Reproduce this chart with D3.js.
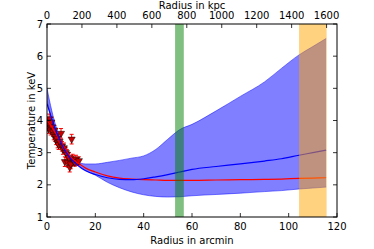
<!DOCTYPE html>
<html><head><meta charset="utf-8">
<script src="https://cdn.jsdelivr.net/npm/d3@7"></script>
<style>body{margin:0;background:#fff}svg{display:block}text{font-family:"DejaVu Sans",sans-serif}</style>
</head><body><svg id="c" width="374" height="249"></svg>
<script>
// model grid (arcmin)
const gridX   = [0,2,4,6,8,10,12,14,16,20,25,30,35,40,45,50,55,60,70,80,90,97,104.3,110,115.5];
const bandUp  = [5.0,4.3,3.75,3.35,3.05,2.85,2.72,2.67,2.65,2.65,2.7,2.76,2.83,2.9,3.1,3.42,3.72,3.88,4.3,4.75,5.2,5.62,6.04,6.3,6.55];
const bandLo  = [4.6,4.0,3.55,3.2,2.95,2.78,2.65,2.55,2.45,2.3,2.08,1.91,1.78,1.69,1.64,1.62,1.63,1.66,1.70,1.74,1.79,1.82,1.87,1.90,1.93];
const blueLine= [4.52,4.05,3.62,3.28,3.0,2.8,2.65,2.53,2.44,2.32,2.22,2.17,2.16,2.19,2.25,2.32,2.4,2.48,2.57,2.65,2.74,2.81,2.92,3.0,3.08];
const redLine = [4.0,3.8,3.55,3.3,3.05,2.85,2.72,2.62,2.52,2.4,2.28,2.21,2.18,2.16,2.15,2.14,2.14,2.14,2.15,2.16,2.17,2.18,2.2,2.21,2.22];
// observed points
const obsX = [0.3,0.6,0.9,1.2,1.5,1.8,2.1,2.5,2.8,3.1,3.4,3.8,4.1,4.4,4.8,5.2,5.8,6.2,6.6,7.0,7.4,7.8,8.2,8.6,9.0,9.4,9.8,10.2,10.6,11.0,11.5,12.0,12.6,13.2];
const obsT = [3.95,3.75,4.05,3.85,3.7,3.95,3.8,3.65,3.55,3.7,3.5,3.4,3.45,3.3,3.25,3.35,3.6,3.2,3.1,3.15,2.72,3.0,2.95,2.7,2.85,2.55,2.65,3.42,2.8,2.75,2.7,2.8,2.72,2.75];
const obsXErr = [0.3,0.3,0.3,0.3,0.3,0.3,0.3,0.3,0.3,0.3,0.3,0.3,0.3,0.3,0.4,0.4,0.4,0.4,0.4,0.4,0.4,0.4,0.4,0.4,0.4,0.4,0.5,0.5,0.5,0.5,0.5,0.5,0.5,0.5];
const obsTErr = [0.15,0.15,0.15,0.15,0.15,0.15,0.15,0.15,0.15,0.15,0.15,0.15,0.15,0.15,0.15,0.15,0.15,0.15,0.15,0.15,0.15,0.15,0.15,0.15,0.15,0.15,0.15,0.15,0.15,0.15,0.12,0.12,0.12,0.12];
// shaded regions (arcmin)
const greenBand = [53, 56.6];
const orangeBand = [104.3, 115.7];
const xTicks = [0,20,40,60,80,100,120];
const kpcTicks = [0,200,400,600,800,1000,1200,1400,1600];
const yTicks = [1,2,3,4,5,6,7];
const kpcPerArcmin = 13.83;

const W=374,H=249,m={l:47,r:37,t:24,b:32};
const svg=d3.select("#c");
const x=d3.scaleLinear().domain([0,120]).range([m.l,W-m.r]);
const xk=d3.scaleLinear().domain([0,120*kpcPerArcmin]).range([m.l,W-m.r]);
const y=d3.scaleLinear().domain([1,7]).range([H-m.b,m.t]);
const g=svg.append("g");
svg.append("clipPath").attr("id","cp").append("rect").attr("x",m.l).attr("y",m.t).attr("width",W-m.l-m.r).attr("height",H-m.t-m.b);
const p=g.append("g").attr("clip-path","url(#cp)");

const idx=d3.range(gridX.length);
p.append("path").attr("d",d3.area().x(i=>x(gridX[i])).y0(i=>y(bandLo[i])).y1(i=>y(bandUp[i])).curve(d3.curveMonotoneX)(idx))
 .attr("fill","rgba(0,0,255,0.5)").attr("stroke","none");
p.append("path").attr("d",d3.line().x(i=>x(gridX[i])).y(i=>y(bandUp[i])).curve(d3.curveMonotoneX)(idx)).attr("fill","none").attr("stroke","#0000ff").attr("stroke-width",0.8).attr("stroke-opacity",0.6);
p.append("path").attr("d",d3.line().x(i=>x(gridX[i])).y(i=>y(bandLo[i])).curve(d3.curveMonotoneX)(idx)).attr("fill","none").attr("stroke","#0000ff").attr("stroke-width",0.8).attr("stroke-opacity",0.6);

// error bars & points
const eb=p.append("g").attr("stroke","#ff0000").attr("stroke-width",1);
obsX.forEach((v,i)=>{
  const cx=x(v),cy=y(obsT[i]);
  eb.append("line").attr("x1",x(v-obsXErr[i])).attr("x2",x(v+obsXErr[i])).attr("y1",cy).attr("y2",cy);
  eb.append("line").attr("x1",cx).attr("x2",cx).attr("y1",y(obsT[i]-obsTErr[i])).attr("y2",y(obsT[i]+obsTErr[i]));
  [obsT[i]-obsTErr[i],obsT[i]+obsTErr[i]].forEach(t=>eb.append("line").attr("x1",cx-2).attr("x2",cx+2).attr("y1",y(t)).attr("y2",y(t)));
});
const tri=d3.symbol().type(d3.symbolTriangle).size(22);
obsX.forEach((v,i)=>{
  p.append("path").attr("d",tri()).attr("transform",`translate(${x(v)},${y(obsT[i])}) rotate(180)`).attr("fill","#cc0000").attr("stroke","#000").attr("stroke-width",0.5);
});

p.append("path").attr("d",d3.line().x(i=>x(gridX[i])).y(i=>y(redLine[i])).curve(d3.curveMonotoneX)(idx)).attr("fill","none").attr("stroke","#ff0000").attr("stroke-width",1.2);
p.append("path").attr("d",d3.line().x(i=>x(gridX[i])).y(i=>y(blueLine[i])).curve(d3.curveMonotoneX)(idx)).attr("fill","none").attr("stroke","#0000ff").attr("stroke-width",1.2);

// bands
[[greenBand,"rgba(0,128,0,0.5)"],[orangeBand,"rgba(255,165,0,0.5)"]].forEach(([b,c])=>{
  p.append("rect").attr("x",x(b[0])).attr("width",x(b[1])-x(b[0])).attr("y",m.t).attr("height",H-m.t-m.b).attr("fill",c);
});

// frame
g.append("rect").attr("x",m.l).attr("y",m.t).attr("width",W-m.l-m.r).attr("height",H-m.t-m.b).attr("fill","none").attr("stroke","#000").attr("stroke-width",1);

const fs=10;
const ax=g.append("g").attr("stroke","#000").attr("stroke-width",0.8);
xTicks.forEach(t=>{ax.append("line").attr("x1",x(t)).attr("x2",x(t)).attr("y1",H-m.b).attr("y2",H-m.b-4);});
kpcTicks.forEach(t=>{ax.append("line").attr("x1",xk(t)).attr("x2",xk(t)).attr("y1",m.t).attr("y2",m.t+4);});
yTicks.forEach(t=>{ax.append("line").attr("x1",m.l).attr("x2",m.l+4).attr("y1",y(t)).attr("y2",y(t));
  ax.append("line").attr("x1",W-m.r).attr("x2",W-m.r-4).attr("y1",y(t)).attr("y2",y(t));});
g.selectAll(".xt").data(xTicks).enter().append("text").attr("x",d=>x(d)).attr("y",H-m.b+13).attr("text-anchor","middle").attr("font-size",fs).text(d=>d);
g.selectAll(".kt").data(kpcTicks).enter().append("text").attr("x",d=>xk(d)).attr("y",m.t-5).attr("text-anchor","middle").attr("font-size",fs).text(d=>d);
g.selectAll(".yt").data(yTicks).enter().append("text").attr("x",m.l-4).attr("y",d=>y(d)+3.5).attr("text-anchor","end").attr("font-size",fs).text(d=>d);
g.append("text").attr("x",(m.l+W-m.r)/2).attr("y",H-5).attr("text-anchor","middle").attr("font-size",fs).text("Radius in arcmin");
g.append("text").attr("x",(m.l+W-m.r)/2).attr("y",9).attr("text-anchor","middle").attr("font-size",fs).text("Radius in kpc");
g.append("text").attr("transform",`translate(35,${(m.t+H-m.b)/2}) rotate(-90)`).attr("text-anchor","middle").attr("font-size",fs).text("Temperature in keV");
</script></body></html>
